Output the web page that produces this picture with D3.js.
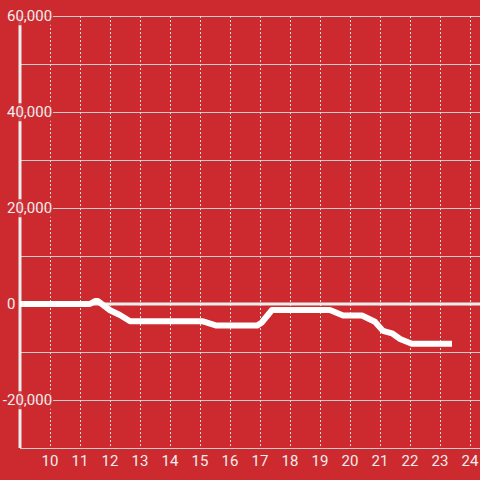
<!DOCTYPE html>
<html>
<head>
<meta charset="utf-8">
<script src="https://cdn.jsdelivr.net/npm/d3@7"></script>
<style>
  html, body { margin: 0; padding: 0; background: #cc2a2f; }
  svg { display: block; }
</style>
</head>
<body>
<div id="chart"></div>
<script>
// Constants
const W = 480, H = 480;
const MARGIN = { top: 16, right: 0, bottom: 32, left: 20 };
const BG = "#cc2a2f";

// Data (hour of day, value)
const hours = [9, 11.33, 11.5, 11.6, 12.0, 12.33, 12.67, 15.1, 15.55, 16.9, 17.05, 17.4, 19.33, 19.77, 20.4, 20.83, 21.1, 21.4, 21.67, 22.06, 23.4];
const values = [0, 0, 600, 600, -1300, -2300, -3600, -3600, -4500, -4500, -3900, -1250, -1250, -2400, -2400, -3700, -5600, -6100, -7300, -8300, -8300];
const xTicks = [10, 11, 12, 13, 14, 15, 16, 17, 18, 19, 20, 21, 22, 23, 24];
const yLabelTicks = [60000, 40000, 20000, 0, -20000];
const yGridTicks = [60000, 50000, 40000, 30000, 20000, 10000, -10000, -20000, -30000];

const data = hours.map((h, i) => ({ h, v: values[i] }));

const svg = d3.select("#chart").append("svg")
  .attr("width", W)
  .attr("height", H)
  .style("font-family", "Roboto, sans-serif");

svg.append("rect").attr("width", W).attr("height", H).attr("fill", BG);

const x = d3.scaleLinear()
  .domain([9, 9 + (W - MARGIN.left) / 30])
  .range([MARGIN.left, W - MARGIN.right]);

const y = d3.scaleLinear()
  .domain([-30000, 60000])
  .range([H - MARGIN.bottom, MARGIN.top]);

// Horizontal gridlines
svg.append("g")
  .selectAll("line")
  .data(yGridTicks)
  .join("line")
  .attr("x1", MARGIN.left)
  .attr("x2", W - MARGIN.right)
  .attr("y1", d => Math.round(y(d)) + 0.5)
  .attr("y2", d => Math.round(y(d)) + 0.5)
  .attr("stroke", "#cccccc")
  .attr("stroke-width", 1);

// Vertical dotted gridlines
svg.append("g")
  .selectAll("line")
  .data(xTicks)
  .join("line")
  .attr("x1", d => Math.round(x(d)) + 0.5)
  .attr("x2", d => Math.round(x(d)) + 0.5)
  .attr("y1", y(60000))
  .attr("y2", y(-30000))
  .attr("stroke", "#dddddd")
  .attr("stroke-width", 1)
  .attr("stroke-dasharray", "2,2");

// Zero line
svg.append("line")
  .attr("x1", MARGIN.left)
  .attr("x2", W - MARGIN.right)
  .attr("y1", y(0))
  .attr("y2", y(0))
  .attr("stroke", "#eeeeee")
  .attr("stroke-width", 3);

// Left axis line
svg.append("line")
  .attr("x1", MARGIN.left)
  .attr("x2", MARGIN.left)
  .attr("y1", y(60000))
  .attr("y2", y(-30000))
  .attr("stroke", "#eeeeee")
  .attr("stroke-width", 3);

// Data line
const line = d3.line()
  .x(d => x(d.h))
  .y(d => y(d.v));

svg.append("path")
  .datum(data)
  .attr("d", line)
  .attr("fill", "none")
  .attr("stroke", "#ffffff")
  .attr("stroke-width", 6)
  .attr("stroke-linejoin", "round");

// Y labels with backgrounds
const minusW = (() => {
  const t = svg.append("text").attr("font-size", 15).text("-");
  const w = t.node().getComputedTextLength();
  t.remove();
  return w;
})();

const yLabels = svg.append("g")
  .selectAll("g")
  .data(yLabelTicks)
  .join("g")
  .attr("transform", d => `translate(${7 - (d < 0 ? minusW : 0)},${y(d)})`);

yLabels.append("text")
  .attr("font-size", 15)
  .attr("fill", "#eeeeee")
  .attr("dy", "0.35em")
  .text(d => d3.format(",")(d).replace("−", "-"));

yLabels.insert("rect", "text")
  .each(function() {
    const bb = this.parentNode.querySelector("text").getBBox();
    d3.select(this)
      .attr("x", bb.x - 2)
      .attr("y", bb.y)
      .attr("width", bb.width + 3)
      .attr("height", bb.height)
      .attr("fill", BG)
      .attr("fill-opacity", 0.85);
  });

// X labels
svg.append("g")
  .selectAll("text")
  .data(xTicks)
  .join("text")
  .attr("x", d => x(d))
  .attr("y", H - MARGIN.bottom + 13)
  .attr("dy", "0.35em")
  .attr("text-anchor", "middle")
  .attr("font-size", 15)
  .attr("fill", "#eeeeee")
  .text(d => d);
</script>
</body>
</html>
